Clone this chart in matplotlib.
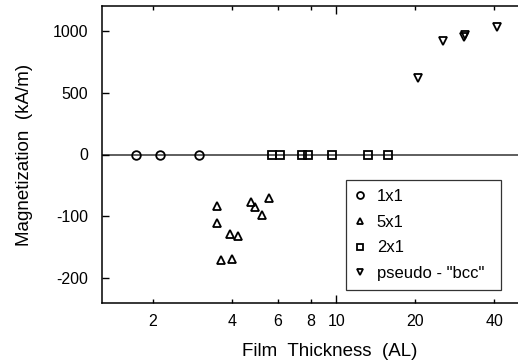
import numpy as np
import matplotlib
matplotlib.use("Agg")
import matplotlib.pyplot as plt
from matplotlib.ticker import FixedLocator, FixedFormatter

plt.rcParams['font.family'] = ['Liberation Sans', 'DejaVu Sans']

# Data (film thickness in atomic layers, magnetization in kA/m)
x_1x1 = [1.72, 2.12, 3.01]
y_1x1 = [0, 0, 0]

x_5x1 = [3.52, 3.52, 3.93, 4.23, 3.62, 4.01, 4.71, 4.92, 5.22, 5.53]
y_5x1 = [-83, -111, -128, -131, -171, -169, -77, -85, -98, -70]

x_2x1 = [5.69, 6.09, 7.41, 7.78, 9.63, 13.15, 15.67]
y_2x1 = [0, 0, 0, 0, 0, 0, 0]

x_bcc = [20.4, 25.4, 30.7, 30.9, 40.8]
y_bcc = [621, 919, 950, 965, 1027]

labels = ["1x1", "5x1", "2x1", 'pseudo - "bcc"']
xtick_vals = [2, 4, 6, 8, 20, 40]
xtick_major = [10]
ytick_vals = [1000, 500, 0, -100, -200]


def fwd(y):
    y = np.asarray(y, dtype=float)
    return np.where(y < 0, 5 * y, y)


def inv(v):
    v = np.asarray(v, dtype=float)
    return np.where(v < 0, v / 5, v)


fig = plt.figure(figsize=(5.18, 3.62), dpi=100)
ax = fig.add_axes([102 / 518, 1 - 303 / 362, 1 - 102 / 518, (303 - 6) / 362])

ax.axhline(0, color='#333333', lw=1.1, zorder=1)

mk = dict(linestyle='none', mfc='none', mec='black', mew=1.3, ms=6.2, zorder=3)
ax.plot(x_1x1, y_1x1, marker='o', label=labels[0], **mk)
ax.plot(x_5x1, y_5x1, marker='^', label=labels[1], **mk)
ax.plot(x_2x1, y_2x1, marker='s', label=labels[2], **mk)
ax.plot(x_bcc, y_bcc, marker='v', label=labels[3], **mk)

ax.set_xscale('log')
ax.set_yscale('function', functions=(fwd, inv))
ax.set_xlim(1.28, 49.2)
ax.set_ylim(-240, 1200)

ax.xaxis.set_major_locator(FixedLocator(xtick_major))
ax.xaxis.set_major_formatter(FixedFormatter([str(v) for v in xtick_major]))
ax.xaxis.set_minor_locator(FixedLocator(xtick_vals))
ax.xaxis.set_minor_formatter(FixedFormatter([str(v) for v in xtick_vals]))
ax.yaxis.set_major_locator(FixedLocator(ytick_vals))
ax.yaxis.set_major_formatter(FixedFormatter([str(v) for v in ytick_vals]))
ax.yaxis.set_minor_locator(FixedLocator([]))

ax.tick_params(axis='x', which='both', direction='in', top=True, labelsize=11.5, pad=8, width=1)
ax.tick_params(axis='x', which='major', length=6)
ax.tick_params(axis='x', which='minor', length=3)
ax.tick_params(axis='y', which='major', direction='in', length=5, width=1, labelsize=11.5, pad=10)

for s in ['left', 'bottom', 'top']:
    ax.spines[s].set_linewidth(1.1)
ax.spines['right'].set_visible(False)

ax.set_xlabel('Film  Thickness  (AL)', fontsize=13.5)
ax.xaxis.set_label_coords((330 - 102) / 416, -(351 - 303) / 297)
ax.set_ylabel('Magnetization  (kA/m)', fontsize=13.5)
ax.yaxis.set_label_coords(-(102 - 25) / 416, 0.5)
ax.xaxis.label.set_va('center')
ax.yaxis.label.set_va('center')

leg = ax.legend(loc='upper left',
                bbox_to_anchor=((346 - 102) / 416, 0.0, (501 - 346) / 416, (303 - 180) / 297),
                mode='expand',
                borderaxespad=0, frameon=True, fancybox=False, fontsize=12,
                markerscale=0.8, handlelength=0.6, handletextpad=0.7,
                labelspacing=0.64, borderpad=0.55)
leg.get_frame().set_edgecolor('black')
leg.get_frame().set_linewidth(0.9)

fig.savefig('out.png', dpi=100)
